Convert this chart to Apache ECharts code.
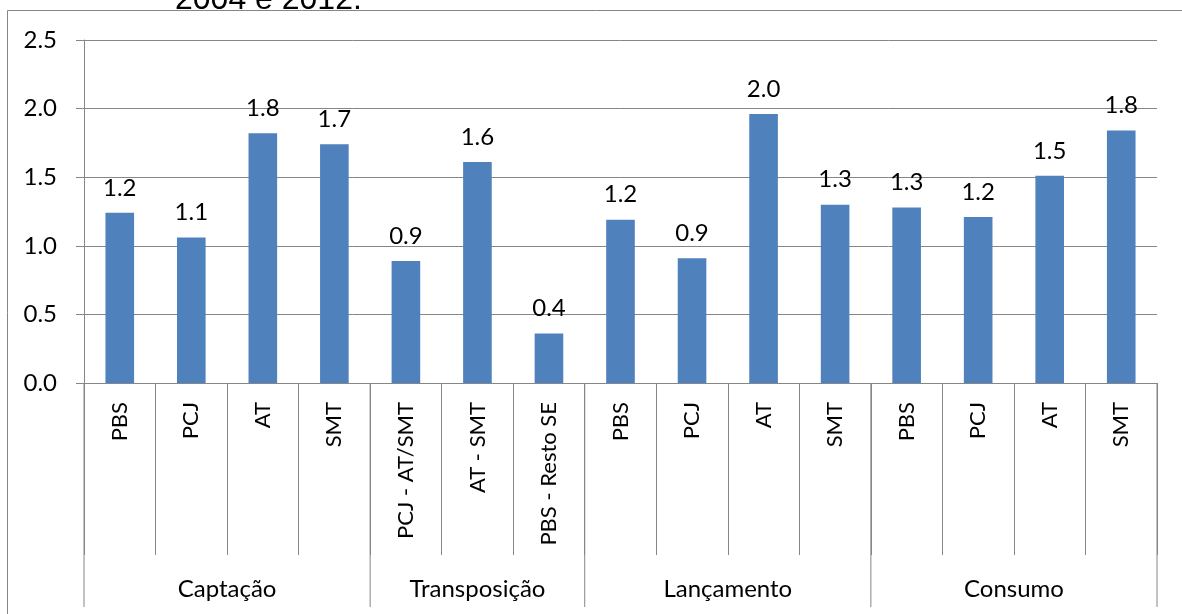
<!DOCTYPE html>
<html>
<head>
<meta charset="utf-8">
<script src="https://cdn.jsdelivr.net/npm/echarts@6/dist/echarts.min.js"></script>
<style>
  html, body { margin: 0; padding: 0; background: #fff; }
  #chart { width: 1182px; height: 614px; }
</style>
</head>
<body>
<div id="chart"></div>
<script>
// Sub-basin labels (first axis level), grouped by use type (second level)
const categories = ['PBS', 'PCJ', 'AT', 'SMT',
                    'PCJ - AT/SMT', 'AT - SMT', 'PBS - Resto SE',
                    'PBS', 'PCJ', 'AT', 'SMT',
                    'PBS', 'PCJ', 'AT', 'SMT'];
const groups = ['Captação', 'Transposição', 'Lançamento', 'Consumo'];
const groupSizes = [4, 3, 4, 4];
const values = [1.24, 1.06, 1.82, 1.74,
                0.89, 1.61, 0.36,
                1.19, 0.91, 1.96, 1.30,
                1.28, 1.21, 1.51, 1.84];
const yTicks = { min: 0, max: 2.5, interval: 0.5 };
const titleText = '2004 e 2012.';

// Build [startIndex, endIndex, name, isLast] for each group band
const groupData = [];
let start = 0;
groups.forEach((g, i) => {
  groupData.push([start, start + groupSizes[i] - 1, g, i === groups.length - 1 ? 1 : 0]);
  start += groupSizes[i];
});

const LINE = '#868686';
const FONT = 'Lato';

const chart = echarts.init(document.getElementById('chart'), null, { renderer: 'canvas' });

chart.setOption({
  animation: false,
  backgroundColor: '#fff',
  title: {
    text: titleText,
    left: 175,
    top: -16,
    padding: 0,
    textStyle: { fontFamily: 'Liberation Sans', fontSize: 32, fontWeight: 'normal', color: '#000' }
  },
  graphic: [{
    type: 'rect',
    z: -1,
    shape: { x: 7.5, y: 10.5, width: 1300, height: 700 },
    style: { fill: 'none', stroke: LINE, lineWidth: 1 }
  }],
  grid: { left: 84, right: 25, top: 40, bottom: 231, containLabel: false },
  xAxis: {
    type: 'category',
    data: categories,
    axisLine: { show: true, lineStyle: { color: LINE, width: 1 } },
    axisTick: { show: true, interval: 0, length: 172, lineStyle: { color: LINE, width: 1 } },
    axisLabel: {
      interval: 0, rotate: 90, margin: 19,
      fontFamily: FONT, fontSize: 22, color: '#000'
    },
    splitLine: { show: false }
  },
  yAxis: {
    type: 'value',
    min: yTicks.min, max: yTicks.max, interval: yTicks.interval,
    axisLine: { show: true, lineStyle: { color: LINE, width: 1 } },
    axisTick: { show: true, length: 8, lineStyle: { color: LINE, width: 1 } },
    axisLabel: {
      margin: 27, fontFamily: FONT, fontSize: 24, color: '#000',
      formatter: v => v.toFixed(1)
    },
    splitLine: { show: true, lineStyle: { color: LINE, width: 1 } }
  },
  series: [
    {
      type: 'bar',
      data: values,
      barWidth: '40%',
      itemStyle: { color: '#4F81BD' },
      label: {
        show: true, position: 'top', distance: 13,
        fontFamily: FONT, fontSize: 24, color: '#000',
        formatter: p => p.value.toFixed(1)
      }
    },
    {
      // Second level of the category axis: group dividers and names
      type: 'custom',
      clip: false,
      silent: true,
      data: groupData,
      renderItem: (params, api) => {
        const s = api.value(0), e = api.value(1), isLast = api.value(3);
        const band = api.size([1, 0])[0];
        const p0 = api.coord([s, 0]);
        const p1 = api.coord([e, 0]);
        const x0 = p0[0] - band / 2;
        const x1 = p1[0] + band / 2;
        const y = p0[1];
        const children = [{
          type: 'line',
          shape: { x1: x0, y1: y, x2: x0, y2: y + 224 },
          style: { stroke: LINE, lineWidth: 1 }
        }, {
          type: 'text',
          style: {
            text: groups[params.dataIndex],
            x: (x0 + x1) / 2, y: y + 206,
            align: 'center', verticalAlign: 'middle',
            font: '24px ' + FONT, fill: '#000'
          }
        }];
        if (isLast) {
          children.push({
            type: 'line',
            shape: { x1: x1, y1: y, x2: x1, y2: y + 224 },
            style: { stroke: LINE, lineWidth: 1 }
          });
        }
        return { type: 'group', children };
      }
    }
  ]
});
</script>
</body>
</html>
